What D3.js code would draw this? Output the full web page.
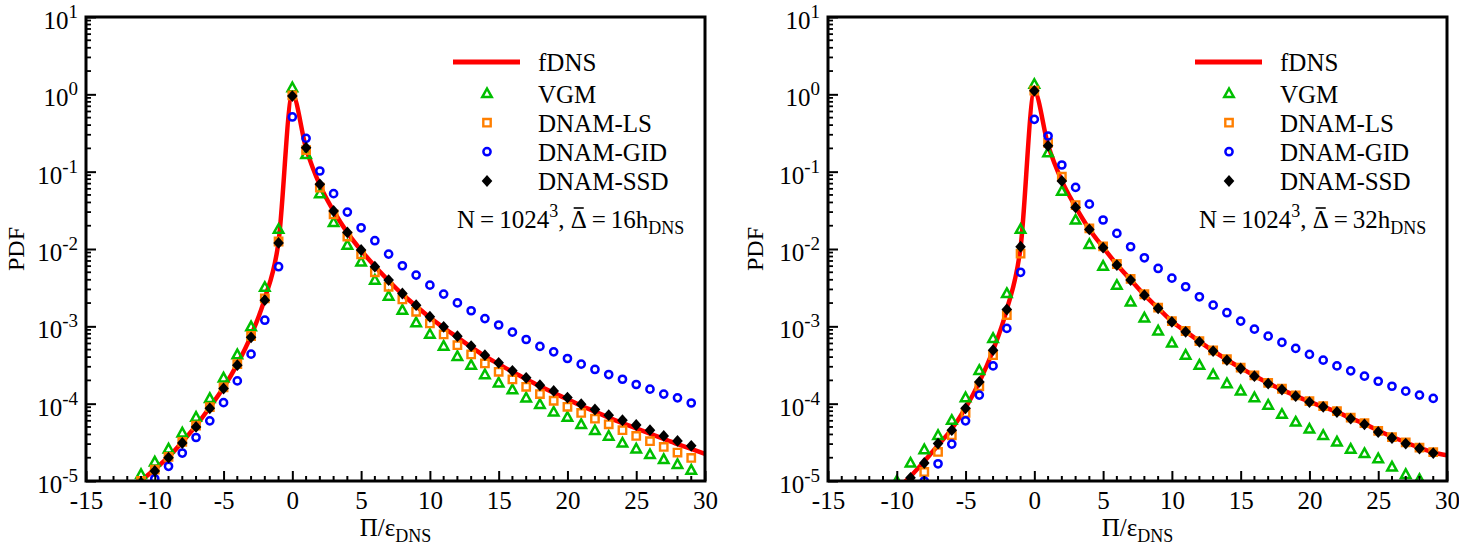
<!DOCTYPE html>
<html>
<head>
<meta charset="utf-8">
<script src="https://cdn.jsdelivr.net/npm/d3@7"></script>
<style>
  html, body { margin: 0; padding: 0; background: #fff; }
  svg { display: block; }
  svg text { font-family: "Liberation Serif", "DejaVu Serif", serif !important; fill: #000; }
</style>
</head>
<body>
<svg id="chart" width="1459" height="548"></svg>
<script>
// ---------------- DATA ----------------
const xTickValues = [-15, -10, -5, 0, 5, 10, 15, 20, 25, 30];
const yTickExponents = [1, 0, -1, -2, -3, -4, -5];
const seriesNames = ["fDNS", "VGM", "DNAM-LS", "DNAM-GID", "DNAM-SSD"];
const panelFilters = ["16", "32"];

// marker abscissae (Pi / eps_DNS)
const markerX = [-11,-10,-9,-8,-7,-6,-5,-4,-3,-2,-1,0,1,2,3,4,5,6,7,8,9,10,11,12,13,14,15,16,17,18,19,20,21,22,23,24,25,26,27,28,29];
// fDNS line abscissae
const lineX = [-12,-11,-10,-9,-8,-7,-6,-5,-4,-3,-2,-1,0,1,2,3,4,5,6,7,8,9,10,11,12,13,14,15,16,17,18,19,20,21,22,23,24,25,26,27,28,29,30];

// ---- Left panel (Delta = 16 h_DNS) ----
const leftFDNS = [6.5e-6,1.0e-5,1.42e-5,2.05e-5,3.2e-5,5.2e-5,9.0e-5,1.62e-4,3.25e-4,7.6e-4,2.3e-3,1.25e-2,1.0,0.2,0.067,0.031,0.0163,0.0096,6.0e-3,3.9e-3,2.6e-3,1.83e-3,1.3e-3,9.6e-4,7.2e-4,5.4e-4,4.1e-4,3.25e-4,2.58e-4,2.08e-4,1.68e-4,1.38e-4,1.14e-4,9.4e-5,7.9e-5,6.6e-5,5.6e-5,4.8e-5,4.1e-5,3.5e-5,3.0e-5,2.6e-5,2.25e-5];
const leftVGM = [1.22e-5,1.77e-5,2.6e-5,4.2e-5,6.7e-5,1.17e-4,2.16e-4,4.3e-4,9.9e-4,3.2e-3,1.8e-2,1.22,0.167,0.052,0.022,0.0112,6.8e-3,3.96e-3,2.46e-3,1.62e-3,1.12e-3,7.9e-4,5.55e-4,4.1e-4,3.15e-4,2.38e-4,1.86e-4,1.52e-4,1.19e-4,9.8e-5,7.8e-5,6.7e-5,5.4e-5,4.5e-5,3.8e-5,3.1e-5,2.6e-5,2.2e-5,1.9e-5,1.64e-5,1.38e-5];
const leftLS = [1.0e-5,1.4e-5,2.05e-5,3.2e-5,5.2e-5,9.0e-5,1.62e-4,3.25e-4,7.5e-4,2.3e-3,1.25e-2,0.97,0.19,0.062,0.028,0.0145,8.5e-3,5.0e-3,3.25e-3,2.23e-3,1.54e-3,1.09e-3,7.85e-4,5.71e-4,4.33e-4,3.31e-4,2.58e-4,2.06e-4,1.65e-4,1.33e-4,1.09e-4,9.1e-5,7.6e-5,6.4e-5,5.4e-5,4.54e-5,3.83e-5,3.27e-5,2.76e-5,2.33e-5,1.99e-5];
const leftGID = [null,1.07e-5,1.55e-5,2.3e-5,3.65e-5,6.0e-5,1.03e-4,1.97e-4,4.37e-4,1.2e-3,5.9e-3,0.51,0.27,0.102,0.052,0.030,0.0188,0.0128,8.6e-3,6.07e-3,4.6e-3,3.41e-3,2.61e-3,2.01e-3,1.59e-3,1.26e-3,1.04e-3,8.4e-4,6.76e-4,5.5e-4,4.68e-4,3.84e-4,3.24e-4,2.77e-4,2.38e-4,2.07e-4,1.77e-4,1.54e-4,1.33e-4,1.19e-4,1.02e-4];
const leftSSD = [9.5e-6,1.35e-5,2.0e-5,3.1e-5,5.0e-5,8.7e-5,1.57e-4,3.15e-4,7.2e-4,2.18e-3,0.012,0.95,0.204,0.0685,0.031,0.0164,0.0097,5.9e-3,3.96e-3,2.66e-3,1.88e-3,1.33e-3,9.86e-4,7.47e-4,5.55e-4,4.24e-4,3.37e-4,2.66e-4,2.16e-4,1.73e-4,1.46e-4,1.20e-4,9.85e-5,8.4e-5,7.1e-5,6.1e-5,5.3e-5,4.54e-5,3.83e-5,3.3e-5,2.85e-5];

// ---- Right panel (Delta = 32 h_DNS) ----
const rightFDNS = [4.5e-6,5.8e-6,7.8e-6,1.15e-5,1.8e-5,2.9e-5,4.7e-5,8.8e-5,1.9e-4,4.9e-4,1.65e-3,1.05e-2,1.08,0.22,0.076,0.035,0.018,0.0105,6.3e-3,4.0e-3,2.55e-3,1.72e-3,1.16e-3,8.6e-4,6.4e-4,4.8e-4,3.7e-4,2.9e-4,2.3e-4,1.85e-4,1.52e-4,1.26e-4,1.06e-4,9.1e-5,7.8e-5,6.5e-5,5.5e-5,4.5e-5,3.75e-5,3.15e-5,2.7e-5,2.35e-5,2.15e-5];
const rightVGM = [null,1.0e-5,1.71e-5,2.55e-5,3.9e-5,6.1e-5,1.2e-4,2.7e-4,7.0e-4,2.66e-3,0.018,1.35,0.176,0.056,0.0237,0.0115,6.0e-3,3.4e-3,2.07e-3,1.29e-3,8.75e-4,6.1e-4,4.24e-4,3.15e-4,2.38e-4,1.82e-4,1.46e-4,1.2e-4,9.6e-5,7.3e-5,5.8e-5,4.7e-5,3.9e-5,3.2e-5,2.58e-5,2.27e-5,1.95e-5,1.52e-5,1.22e-5,1.05e-5,8.5e-6];
const rightLS = [null,null,9.0e-6,1.31e-5,2.38e-5,3.9e-5,7.6e-5,1.68e-4,4.24e-4,1.4e-3,8.7e-3,1.12,0.236,0.086,0.037,0.0185,0.0108,6.4e-3,4.1e-3,2.6e-3,1.75e-3,1.17e-3,8.7e-4,6.45e-4,4.9e-4,3.75e-4,2.92e-4,2.32e-4,1.86e-4,1.56e-4,1.28e-4,1.08e-4,9.3e-5,8.0e-5,6.6e-5,5.6e-5,4.45e-5,3.7e-5,3.15e-5,2.7e-5,2.36e-5];
const rightGID = [null,null,null,1.0e-5,1.67e-5,3.0e-5,6.0e-5,1.29e-4,3.08e-4,9.4e-4,5.0e-3,0.475,0.289,0.122,0.0626,0.038,0.0237,0.0159,0.0107,7.7e-3,5.6e-3,4.2e-3,3.25e-3,2.41e-3,1.88e-3,1.50e-3,1.17e-3,9.2e-4,7.47e-4,6.19e-4,5.18e-4,4.33e-4,3.65e-4,3.08e-4,2.66e-4,2.27e-4,1.95e-4,1.68e-4,1.45e-4,1.29e-4,1.17e-4];
const rightSSD = [null,null,1.1e-5,1.71e-5,3.05e-5,4.54e-5,8.7e-5,1.91e-4,4.92e-4,1.65e-3,0.0107,1.11,0.216,0.076,0.0345,0.0179,0.0104,6.2e-3,3.96e-3,2.53e-3,1.71e-3,1.14e-3,8.5e-4,6.3e-4,4.78e-4,3.65e-4,2.85e-4,2.27e-4,1.82e-4,1.52e-4,1.25e-4,1.05e-4,9.1e-5,7.8e-5,6.4e-5,5.4e-5,4.3e-5,3.6e-5,3.05e-5,2.63e-5,2.3e-5];

// ---------------- STYLE / LAYOUT ----------------
const FONT = '"Liberation Serif", "DejaVu Serif", serif';
const colors = { fDNS: "#ff0000", VGM: "#00bf00", LS: "#ff7f00", GID: "#0000ff", SSD: "#000000" };
const panels = [
  { x0: 86, x1: 705, y0: 17, y1: 481, labelX: 24, filt: panelFilters[0],
    fdns: leftFDNS, vgm: leftVGM, ls: leftLS, gid: leftGID, ssd: leftSSD },
  { x0: 828, x1: 1447, y0: 17, y1: 481, labelX: 763, filt: panelFilters[1],
    fdns: rightFDNS, vgm: rightVGM, ls: rightLS, gid: rightGID, ssd: rightSSD }
];

const svg = d3.select("#chart");

const triType = { draw(ctx) { const s = 5.0; ctx.moveTo(0, -s); ctx.lineTo(s*0.95, s*0.72); ctx.lineTo(-s*0.95, s*0.72); ctx.closePath(); } };
const sqType = { draw(ctx) { const s = 3.7; ctx.moveTo(-s,-s); ctx.lineTo(s,-s); ctx.lineTo(s,s); ctx.lineTo(-s,s); ctx.closePath(); } };
const cirType = { draw(ctx) { const r = 3.6; ctx.moveTo(r,0); ctx.arc(0,0,r,0,2*Math.PI); } };
const diaType = { draw(ctx) { const w = 5.3, h = 5.9; ctx.moveTo(0,-h); ctx.lineTo(w,0); ctx.lineTo(0,h); ctx.lineTo(-w,0); ctx.closePath(); } };

const markerDefs = [
  { key: "vgm", name: seriesNames[1], type: triType, stroke: colors.VGM, fill: "none", sw: 2.5 },
  { key: "ls",  name: seriesNames[2], type: sqType,  stroke: colors.LS,  fill: "none", sw: 2.4 },
  { key: "gid", name: seriesNames[3], type: cirType, stroke: colors.GID, fill: "none", sw: 2.5 },
  { key: "ssd", name: seriesNames[4], type: diaType, stroke: "none", fill: colors.SSD, sw: 0 }
];

function txt(sel) { return sel.attr("font-family", FONT).attr("fill", "#000"); }

panels.forEach((p, pi) => {
  const x = d3.scaleLinear().domain([-15, 30]).range([p.x0, p.x1]);
  const y = d3.scaleLog().domain([1e-5, 10]).range([p.y1, p.y0]);
  const g = svg.append("g");

  const clipId = "clip" + pi;
  svg.append("clipPath").attr("id", clipId).append("rect")
    .attr("x", p.x0).attr("y", p.y0).attr("width", p.x1 - p.x0).attr("height", p.y1 - p.y0);

  const plot = g.append("g").attr("clip-path", `url(#${clipId})`);

  // fDNS line
  const lineData = lineX.map((v, i) => [v, p.fdns[i]]);
  plot.append("path")
    .datum(lineData)
    .attr("fill", "none")
    .attr("stroke", colors.fDNS)
    .attr("stroke-width", 4.5)
    .attr("stroke-linejoin", "round")
    .attr("d", d3.line().x(d => x(d[0])).y(d => y(d[1])).curve(d3.curveMonotoneX));

  // markers
  markerDefs.forEach(m => {
    const vals = p[m.key];
    const pts = markerX.map((v, i) => [v, vals[i]]).filter(d => d[1] != null);
    plot.append("g").selectAll("path").data(pts).join("path")
      .attr("transform", d => `translate(${x(d[0])},${y(d[1])})`)
      .attr("d", d3.symbol().type(m.type))
      .attr("fill", m.fill)
      .attr("stroke", m.stroke)
      .attr("stroke-width", m.sw);
  });

  // frame
  g.append("rect")
    .attr("x", p.x0).attr("y", p.y0).attr("width", p.x1 - p.x0).attr("height", p.y1 - p.y0)
    .attr("fill", "none").attr("stroke", "#000").attr("stroke-width", 3);

  // x ticks (major every 5, minor every 1)
  const minorX = d3.range(-15, 31, 1).filter(v => v % 5 !== 0);
  const xAxis = d3.axisBottom(x).tickValues(xTickValues).tickSizeInner(-10).tickSizeOuter(0).tickPadding(20).tickFormat(d3.format("d"));
  const xa = g.append("g").attr("transform", `translate(0,${p.y1})`).call(xAxis);
  xa.attr("font-family", FONT);
  xa.select(".domain").remove();
  xa.selectAll(".tick line").attr("stroke", "#000").attr("stroke-width", 2);
  txt(xa.selectAll(".tick text")).attr("font-size", 25).attr("dy", "0.3em")
    .text(d => d < 0 ? "-" + Math.abs(d) : String(d));
  g.append("g").selectAll("line").data(minorX).join("line")
    .attr("x1", d => x(d)).attr("x2", d => x(d))
    .attr("y1", p.y1).attr("y2", p.y1 - 5)
    .attr("stroke", "#000").attr("stroke-width", 2);

  // y ticks
  const majorY = yTickExponents.map(e => Math.pow(10, e));
  const yAxis = d3.axisLeft(y).tickValues(majorY).tickSizeInner(-10).tickSizeOuter(0).tickFormat("");
  const ya = g.append("g").attr("transform", `translate(${p.x0},0)`).call(yAxis);
  ya.select(".domain").remove();
  ya.selectAll(".tick line").attr("stroke", "#000").attr("stroke-width", 2);
  const minorY = [];
  for (let e = -5; e < 1; e++) for (let k = 2; k <= 9; k++) minorY.push(k * Math.pow(10, e));
  g.append("g").selectAll("line").data(minorY).join("line")
    .attr("x1", p.x0).attr("x2", p.x0 + 5)
    .attr("y1", d => y(d)).attr("y2", d => y(d))
    .attr("stroke", "#000").attr("stroke-width", 1.8);

  // y tick labels with superscripts
  yTickExponents.forEach(e => {
    const ty = y(Math.pow(10, e));
    const t = txt(g.append("text"))
      .attr("x", p.x0 - 8).attr("y", ty + 12)
      .attr("text-anchor", "end").attr("font-size", 25);
    t.append("tspan").text("10");
    t.append("tspan").attr("dy", -11).attr("font-size", 19).text(e < 0 ? "-" + Math.abs(e) : String(e));
  });

  // axis titles
  txt(g.append("text"))
    .attr("transform", `translate(${p.labelX},${(p.y0 + p.y1) / 2}) rotate(-90)`)
    .attr("text-anchor", "middle").attr("font-size", 24).text("PDF");
  const xl = txt(g.append("text"))
    .attr("x", (p.x0 + p.x1) / 2).attr("y", 536)
    .attr("text-anchor", "middle").attr("font-size", 25);
  xl.append("tspan").text("\u03A0/\u03B5");
  xl.append("tspan").attr("dy", 6).attr("font-size", 18).text("DNS");

  // legend
  const lx = p.x0 + 367, mx = p.x0 + 401, tx = p.x0 + 452;
  const rowY = [62, 93.5, 122.7, 151.7, 181];
  g.append("line").attr("x1", lx).attr("x2", lx + 67).attr("y1", rowY[0]).attr("y2", rowY[0])
    .attr("stroke", colors.fDNS).attr("stroke-width", 5);
  txt(g.append("text")).attr("x", tx).attr("y", rowY[0] + 9).attr("font-size", 25).text(seriesNames[0]);
  markerDefs.forEach((m, i) => {
    const ry = rowY[i + 1];
    g.append("path")
      .attr("transform", `translate(${mx},${ry})`)
      .attr("d", d3.symbol().type(m.type))
      .attr("fill", m.fill)
      .attr("stroke", m.stroke).attr("stroke-width", m.sw);
    txt(g.append("text")).attr("x", tx).attr("y", ry + 9).attr("font-size", 25).text(m.name);
  });

  // annotation: N = 1024^3, Delta-bar = XX h_DNS
  const baseY = 228;
  const an = txt(g.append("text")).attr("x", p.x0 + 371).attr("y", baseY).attr("font-size", 25);
  an.append("tspan").text("N\u2009=\u20091024");
  an.append("tspan").attr("dy", -11).attr("font-size", 18).text("3");
  an.append("tspan").attr("dy", 11).text(", \u0394\u2009=\u2009" + p.filt + "h");
  an.append("tspan").attr("dy", 6).attr("font-size", 18).text("DNS");
  // macron over Delta (char index 11)
  try {
    const node = an.node();
    const s = node.getStartPositionOfChar(11), e = node.getEndPositionOfChar(11);
    g.append("line")
      .attr("x1", s.x + 3).attr("x2", e.x - 3)
      .attr("y1", baseY - 20).attr("y2", baseY - 20)
      .attr("stroke", "#000").attr("stroke-width", 1.6);
  } catch (err) {}
});
</script>
</body>
</html>
